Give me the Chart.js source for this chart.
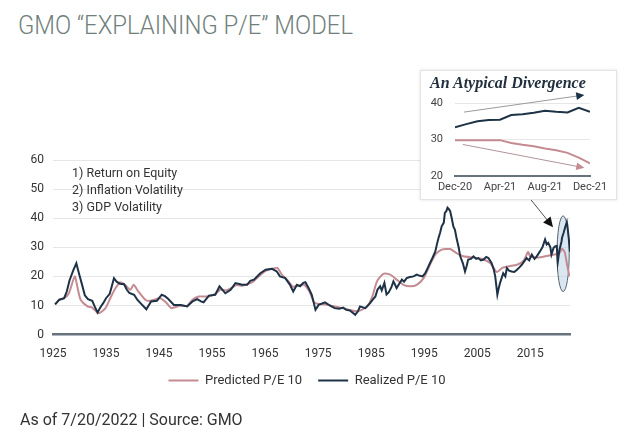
<!DOCTYPE html>
<html>
<head>
<meta charset="utf-8">
<script src="https://cdn.jsdelivr.net/npm/chart.js@4.4.1/dist/chart.umd.min.js"></script>
<style>
  body { margin: 0; background: #fff; width: 642px; height: 439px; position: relative; overflow: hidden; font-family: Roboto, sans-serif; }
  #titulo { position: absolute; left: 18px; top: 11px; font-size: 25px; font-weight: 300; color: #6f807c; white-space: nowrap; transform: scaleX(0.955); transform-origin: left top; }
  #fatores { position: absolute; left: 72px; top: 164px; font-size: 12.5px; line-height: 17px; color: #333; }
  #rodape { position: absolute; left: 20px; top: 410px; font-size: 16px; color: #333; }
  #mainChart { position: absolute; left: 0; top: 140px; }
  #insetBox { position: absolute; left: 420px; top: 70px; width: 197px; height: 130px; background: #fff; border: 1px solid #e4e4e4; box-shadow: 0 0 3px rgba(0,0,0,0.12); box-sizing: border-box; }
  #insetTitle { position: absolute; left: 9px; top: 3px; font-family: 'Liberation Serif', serif; font-style: italic; font-weight: bold; font-size: 16px; color: #22303e; white-space: nowrap; }
  #insetChart { position: absolute; left: 0; top: 0; }
</style>
</head>
<body>
<div id="titulo">GMO “EXPLAINING P/E” MODEL</div>
<canvas id="mainChart" width="618" height="278"></canvas>
<div id="fatores">1) Return on Equity<br>2) Inflation Volatility<br>3) GDP Volatility</div>
<div id="insetBox">
  <canvas id="insetChart" width="195" height="128"></canvas>
  <div id="insetTitle">An Atypical Divergence</div>
</div>
<div id="rodape">As of 7/20/2022 | Source: GMO</div>

<script>
// cores
const NAVY = '#1d3246';
const ROSA = '#c48b92';
const GRADE = '#e6e6e6';
const EIXO = '#66737c';

// grafico principal
const xTickYears = [1925, 1935, 1945, 1955, 1965, 1975, 1985, 1995, 2005, 2015];

const realizedYears = [
  1925.4, 1926.2, 1927.1, 1927.6, 1928.1, 1928.8, 1929.4, 1929.9, 1930.5, 1931.0,
  1931.6, 1932.4, 1932.9, 1933.4, 1934.0, 1934.5, 1935.0, 1935.7, 1936.5, 1937.0,
  1937.6, 1938.4, 1938.9, 1939.4, 1940.3, 1940.9, 1941.5, 1942.6, 1943.5, 1944.6,
  1945.5, 1946.1, 1946.7, 1947.8, 1949.1, 1950.3, 1951.3, 1952.2, 1952.9, 1953.4,
  1954.4, 1955.6, 1956.4, 1957.5, 1958.5, 1959.4, 1960.7, 1961.6, 1962.2, 1962.9,
  1964.1, 1965.1, 1966.3, 1967.2, 1967.8, 1968.8, 1969.7, 1970.3, 1971.0, 1971.6,
  1972.2, 1972.6, 1973.2, 1973.8, 1974.5, 1975.1, 1976.3, 1977.2, 1978.1, 1979.0,
  1979.7, 1980.3, 1981.0, 1982.0, 1982.5, 1982.9, 1983.9, 1984.8, 1985.3, 1985.8,
  1986.2, 1986.7, 1987.0, 1987.5, 1987.9, 1988.3, 1988.8, 1989.2, 1989.8, 1990.3,
  1990.8, 1991.2, 1991.7, 1992.3, 1993.0, 1993.6, 1994.2, 1994.7, 1995.2, 1995.7,
  1996.1, 1996.6, 1997.1, 1997.4, 1997.7, 1998.0, 1998.3, 1998.7, 1998.9, 1999.2,
  1999.4, 1999.7, 1999.9, 2000.2, 2000.5, 2000.8, 2001.1, 2001.5, 2001.8, 2002.3,
  2002.7, 2003.0, 2003.3, 2003.8, 2004.3, 2004.8, 2005.2, 2005.7, 2006.2, 2006.7,
  2007.1, 2007.7, 2008.1, 2008.4, 2008.8, 2009.0, 2009.3, 2009.9, 2010.3, 2010.6,
  2011.0, 2011.5, 2012.0, 2012.5, 2013.0, 2013.4, 2014.3, 2014.8, 2015.3, 2015.8,
  2016.2, 2016.8, 2017.3, 2017.8, 2018.1, 2018.4, 2018.8, 2019.0, 2019.4, 2019.7,
  2020.0, 2020.2, 2020.5, 2020.9, 2021.0, 2021.3, 2021.6, 2021.9, 2022.0, 2022.3,
  2022.5
];
const realizedValues = [
  10.4, 12.0, 12.5, 14.8, 18.5, 22.0, 24.5, 21.0, 17.0, 13.5,
  12.2, 11.6, 9.5, 7.6, 9.6, 10.9, 12.5, 14.0, 19.4, 18.2,
  17.5, 17.3, 15.5, 14.3, 13.7, 12.0, 10.8, 8.7, 11.4, 11.6,
  13.7, 13.2, 12.3, 10.2, 10.2, 9.7, 11.4, 12.2, 11.4, 11.1,
  13.4, 13.7, 16.6, 14.2, 15.4, 17.7, 17.1, 17.1, 18.5, 18.9,
  21.1, 22.3, 22.6, 21.7, 20.0, 19.4, 17.1, 14.8, 17.1, 16.6,
  17.8, 18.0, 16.0, 13.7, 8.5, 10.2, 11.1, 10.0, 9.1, 8.9,
  9.3, 8.5, 8.3, 6.8, 8.0, 9.7, 9.1, 10.8, 12.0, 13.1,
  15.5, 16.6, 15.2, 17.8, 13.8, 14.5, 16.2, 18.3, 16.0, 17.5,
  18.9, 18.2, 19.4, 19.8, 20.0, 20.6, 20.2, 20.0, 21.1, 23.0,
  24.6, 26.5, 28.6, 31.0, 33.2, 35.0, 37.2, 38.5, 41.8, 42.5,
  43.6, 43.0, 42.4, 40.0, 37.2, 36.0, 33.2, 30.0, 26.9, 24.5,
  21.7, 23.5, 25.8, 26.0, 26.9, 26.0, 26.3, 25.5, 25.8, 26.7,
  26.3, 24.6, 22.5, 20.0, 13.7, 15.5, 17.7, 21.1, 20.0, 22.9,
  22.0, 21.7, 21.5, 22.3, 23.2, 24.0, 26.3, 25.5, 27.5, 26.0,
  26.8, 28.5, 30.0, 32.7, 31.0, 31.5, 30.0, 27.5, 29.8, 30.3,
  30.5, 25.0, 29.0, 32.0, 33.3, 35.0, 37.0, 38.7, 37.5, 32.5,
  28.5
];

const predictedYears = [
  1925.4, 1926.2, 1927.1, 1928.0, 1929.1, 1929.7, 1930.2, 1931.5, 1932.4, 1933.6,
  1934.9, 1935.8, 1936.8, 1937.7, 1938.6, 1939.6, 1940.2, 1941.1, 1942.4, 1943.3,
  1945.2, 1946.3, 1947.3, 1948.9, 1950.3, 1951.3, 1952.5, 1953.5, 1954.5, 1955.6,
  1956.6, 1957.6, 1958.6, 1959.6, 1960.7, 1961.6, 1962.6, 1963.8, 1965.0, 1966.3,
  1967.3, 1968.2, 1969.2, 1970.2, 1971.2, 1972.3, 1973.3, 1974.3, 1975.3, 1976.5,
  1977.7, 1979.0, 1980.3, 1981.3, 1982.3, 1983.3, 1984.3, 1985.2, 1986.1, 1987.3,
  1988.6, 1989.8, 1991.1, 1992.4, 1993.6, 1994.9, 1996.1, 1997.1, 1998.3, 1999.9,
  2001.1, 2002.4, 2004.3, 2006.0, 2007.5, 2008.7, 2009.8, 2011.0, 2012.5, 2013.8,
  2014.6, 2015.0, 2016.5, 2018.0, 2019.5, 2020.5, 2021.0, 2021.5, 2022.0, 2022.4
];
const predictedValues = [
  10.4, 12.0, 12.5, 14.2, 20.0, 15.5, 12.0, 9.7, 9.3, 7.3,
  9.1, 12.5, 16.0, 18.0, 17.1, 15.4, 17.1, 14.8, 12.0, 11.6,
  12.5, 11.1, 9.1, 9.9, 9.9, 12.0, 13.1, 13.1, 13.2, 14.0,
  15.5, 15.2, 16.0, 17.0, 16.8, 17.3, 18.0, 20.0, 21.8, 22.6,
  22.9, 20.5, 18.8, 16.5, 16.8, 17.2, 15.0, 11.0, 10.5, 10.3,
  9.8, 9.3, 8.8, 8.3, 8.0, 8.6, 9.8, 13.0, 18.3, 20.9,
  20.6, 18.9, 17.1, 16.6, 17.1, 19.4, 24.0, 27.5, 29.2, 29.4,
  28.0, 26.9, 26.5, 26.0, 24.5, 21.5, 23.0, 23.5, 24.0, 25.5,
  28.4, 26.8, 26.5, 27.0, 27.5, 28.0, 29.5, 28.3, 23.5, 20.0
];

// destaque: elipse em volta do fim da serie e seta vinda do quadro
const elipseCentro = { ano: 2021.2, pe: 27.8 };
const elipseRaio = { anos: 1.15, pe: 13 };
const setaPrincipal = { de: [2014.4, 48.0], ate: [2019.3, 36.9] };

// quadro "An Atypical Divergence"
const insetLabels = ['Dec-20', 'Jan-21', 'Feb-21', 'Mar-21', 'Apr-21', 'May-21', 'Jun-21',
  'Jul-21', 'Aug-21', 'Sep-21', 'Oct-21', 'Nov-21', 'Dec-21'];
const insetMonths = [0, 1, 2, 3, 4, 5, 6, 7, 8, 9, 10, 11, 12];
const insetTicks = [0, 4, 8, 12];
const insetRealized = [33.3, 34.2, 35.0, 35.3, 35.4, 36.7, 36.9, 37.3, 37.9, 37.6, 37.4, 38.7, 37.6];
const insetPredicted = [29.8, 29.8, 29.8, 29.8, 29.8, 29.0, 28.5, 28.1, 27.5, 27.0, 26.3, 25.0, 23.4];
const setaAlta = { de: [0.8, 37.5], ate: [11.5, 42.2] };
const setaBaixa = { de: [0.7, 28.6], ate: [11.5, 22.2] };

function toPoints(xs, ys) {
  return xs.map((x, i) => ({ x: x, y: ys[i] }));
}

function desenharSeta(ctx, x1, y1, x2, y2, corLinha, corPonta, tam) {
  const ang = Math.atan2(y2 - y1, x2 - x1);
  ctx.save();
  ctx.strokeStyle = corLinha;
  ctx.lineWidth = 1;
  ctx.beginPath();
  ctx.moveTo(x1, y1);
  ctx.lineTo(x2 - Math.cos(ang) * tam * 0.8, y2 - Math.sin(ang) * tam * 0.8);
  ctx.stroke();
  ctx.fillStyle = corPonta;
  ctx.beginPath();
  ctx.moveTo(x2, y2);
  ctx.lineTo(x2 - tam * Math.cos(ang - 0.45), y2 - tam * Math.sin(ang - 0.45));
  ctx.lineTo(x2 - tam * Math.cos(ang + 0.45), y2 - tam * Math.sin(ang + 0.45));
  ctx.closePath();
  ctx.fill();
  ctx.restore();
}

const destaquePlugin = {
  id: 'destaque',
  afterLayout(chart) {
    // legenda do original: um pouco a direita do centro e mais perto do eixo
    chart.legend.left += 22;
    chart.legend.right += 22;
    chart.legend.top -= 15;
    chart.legend.bottom -= 15;
  },
  beforeDatasetsDraw(chart) {
    const { ctx, scales: { x, y } } = chart;
    const cx = x.getPixelForValue(elipseCentro.ano);
    const cy = y.getPixelForValue(elipseCentro.pe);
    const rx = x.getPixelForValue(elipseCentro.ano + elipseRaio.anos) - cx;
    const ry = cy - y.getPixelForValue(elipseCentro.pe + elipseRaio.pe);
    ctx.save();
    ctx.beginPath();
    ctx.ellipse(cx, cy, rx, ry, 0, 0, Math.PI * 2);
    ctx.fillStyle = 'rgba(190, 212, 228, 0.55)';
    ctx.fill();
    ctx.strokeStyle = '#56646e';
    ctx.lineWidth = 1;
    ctx.stroke();
    ctx.restore();
  },
  afterDatasetsDraw(chart) {
    const { ctx, scales: { x, y } } = chart;
    desenharSeta(ctx,
      x.getPixelForValue(setaPrincipal.de[0]), y.getPixelForValue(setaPrincipal.de[1]),
      x.getPixelForValue(setaPrincipal.ate[0]), y.getPixelForValue(setaPrincipal.ate[1]),
      '#555', '#111', 11);
  }
};

const setasInsetPlugin = {
  id: 'setasInset',
  afterDatasetsDraw(chart) {
    const { ctx, scales: { x, y } } = chart;
    desenharSeta(ctx, x.getPixelForValue(setaAlta.de[0]), y.getPixelForValue(setaAlta.de[1]),
      x.getPixelForValue(setaAlta.ate[0]), y.getPixelForValue(setaAlta.ate[1]), '#9a9a9a', NAVY, 9);
    desenharSeta(ctx, x.getPixelForValue(setaBaixa.de[0]), y.getPixelForValue(setaBaixa.de[1]),
      x.getPixelForValue(setaBaixa.ate[0]), y.getPixelForValue(setaBaixa.ate[1]), '#b09498', ROSA, 9);
  }
};

const fonteTick = { family: 'Roboto', size: 12 };

new Chart(document.getElementById('mainChart'), {
  type: 'line',
  data: {
    datasets: [
      { label: 'Predicted P/E 10', data: toPoints(predictedYears, predictedValues), borderColor: ROSA, backgroundColor: ROSA, borderWidth: 2, pointRadius: 0, tension: 0.2, order: 1 },
      { label: 'Realized P/E 10', data: toPoints(realizedYears, realizedValues), borderColor: NAVY, backgroundColor: NAVY, borderWidth: 2, pointRadius: 0, tension: 0, order: 0 }
    ]
  },
  options: {
    responsive: false,
    animation: false,
    layout: { padding: { top: 20, right: 48, left: 0, bottom: 6 } },
    scales: {
      x: {
        type: 'linear',
        min: 1925,
        max: 2022.5,
        afterBuildTicks: s => { s.ticks = xTickYears.map(v => ({ value: v })); },
        ticks: { callback: v => String(v), font: fonteTick, color: '#333', padding: 12, maxRotation: 0 },
        grid: { display: false, drawTicks: false },
        border: { color: EIXO, width: 2.5 }
      },
      y: {
        min: 0,
        max: 60,
        afterFit: s => { s.width = 53; },
        ticks: { stepSize: 10, font: fonteTick, color: '#333', padding: 9 },
        grid: { color: GRADE, drawTicks: false },
        border: { display: false }
      }
    },
    plugins: {
      legend: {
        position: 'bottom',
        labels: {
          usePointStyle: true,
          pointStyle: 'line',
          pointStyleWidth: 30,
          font: { family: 'Roboto', size: 13 },
          color: '#333',
          padding: 16,
          sort: (a, b) => a.datasetIndex - b.datasetIndex
        }
      },
      tooltip: { enabled: false }
    }
  },
  plugins: [destaquePlugin]
});

new Chart(document.getElementById('insetChart'), {
  type: 'line',
  data: {
    datasets: [
      { label: 'Predicted P/E 10', data: toPoints(insetMonths, insetPredicted), borderColor: ROSA, borderWidth: 2, pointRadius: 0, order: 1 },
      { label: 'Realized P/E 10', data: toPoints(insetMonths, insetRealized), borderColor: NAVY, borderWidth: 2, pointRadius: 0, order: 0 }
    ]
  },
  options: {
    responsive: false,
    animation: false,
    layout: { padding: { top: 32, right: 26, left: 9, bottom: 0 } },
    scales: {
      x: {
        type: 'linear',
        min: 0,
        max: 12,
        afterBuildTicks: s => { s.ticks = insetTicks.map(v => ({ value: v })); },
        ticks: { callback: v => insetLabels[v], font: { family: 'Roboto', size: 11 }, color: '#444', padding: 5, maxRotation: 0 },
        grid: { display: false, drawTicks: false },
        border: { color: EIXO, width: 2 }
      },
      y: {
        min: 20,
        max: 40,
        afterFit: s => { s.width = 25; },
        ticks: { stepSize: 10, font: { family: 'Roboto', size: 11 }, color: '#444', padding: 12 },
        grid: { color: GRADE, drawTicks: false },
        border: { display: false }
      }
    },
    plugins: { legend: { display: false }, tooltip: { enabled: false } }
  },
  plugins: [setasInsetPlugin]
});
</script>
</body>
</html>
